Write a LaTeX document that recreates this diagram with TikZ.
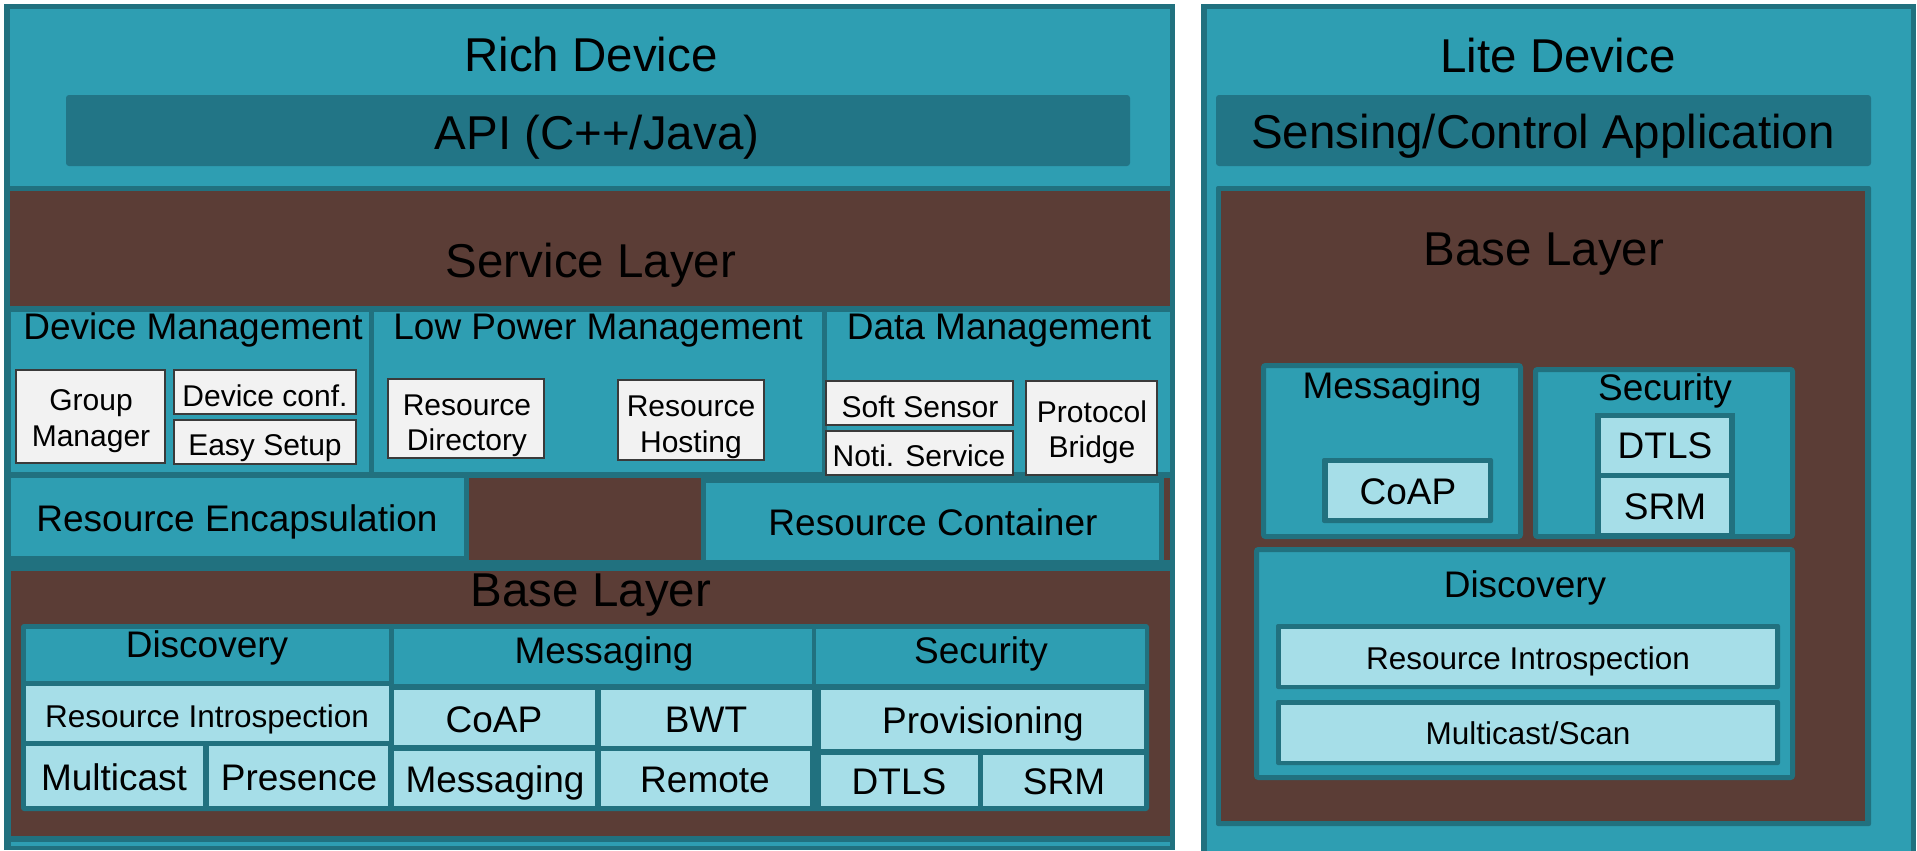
\documentclass[tikz,border=0pt]{standalone}
\usepackage{fontspec}
\setmainfont{Liberation Sans}
\definecolor{dteal}{RGB}{33,113,127}
\definecolor{lteal}{RGB}{46,158,178}
\definecolor{apib}{RGB}{34,117,134}
\definecolor{brn}{RGB}{91,61,54}
\definecolor{cyn}{RGB}{166,222,232}
\definecolor{wht}{RGB}{242,242,242}
\definecolor{wbord}{RGB}{58,58,58}
\newcommand\blk[6]{%
  \pgfmathsetmacro\blkX{(#2+#4)/2}\pgfmathsetmacro\blkY{(#3+#5)/2}%
  \pgfmathsetmacro\blkW{#4-#2}\pgfmathsetmacro\blkH{#5-#3}%
  \node[blkbase,#6,minimum width=\blkW pt,minimum height=\blkH pt] (#1) at (\blkX pt,-\blkY pt) {};}
\newcommand\lbl[5]{%
  \node[lblbase,#4] (#1) at (#2pt,-#3pt) {#5};}
\tikzset{
  blkbase/.style={rectangle,inner sep=0pt,outer sep=0pt,draw=none},
  lblbase/.style={anchor=base,inner sep=0pt,outer sep=0pt,text=black},
  darkf/.style={fill=dteal},
  panelf/.style={fill=lteal},
  brownf/.style={fill=brn},
  apif/.style={fill=apib,rounded corners=3pt},
  cellc/.style={fill=cyn},
  wbox/.style={fill=wht,draw=wbord,line width=2.5pt},
  bpanel/.style={fill=lteal,draw=dteal,line width=5pt,rounded corners=2pt},
  sqpanel/.style={fill=lteal,draw=dteal,line width=5pt},
  fbig/.style={font=\fontsize{47.5}{50}\selectfont},
  fmid/.style={font=\fontsize{37}{40}\selectfont},
  fsmall/.style={font=\fontsize{31.5}{34}\selectfont},
  fwt/.style={font=\fontsize{30}{33}\selectfont},
}
\begin{document}
\begin{tikzpicture}
\useasboundingbox (0,0) rectangle (1917pt,-851pt);
\fill[white] (0,0) rectangle (1917pt,-851pt);
\begin{scope}
\clip (0,0) rectangle (1917pt,-851pt);
% ---------------- Rich device ----------------
\blk{richOuter}{4}{4}{1175}{850}{darkf}
\blk{richTop}{10}{9}{1170}{186}{panelf}
\blk{api}{66}{95}{1130}{166}{apif}
\blk{service}{10}{191}{1170}{306}{brownf}
\blk{devMgmt}{11}{312}{369}{472}{panelf}
\blk{lowPow}{374}{312}{822}{472}{panelf}
\blk{dataMgmt}{827}{312}{1170}{472}{panelf}
\blk{gm}{16}{370}{165}{463}{wbox}
\blk{dconf}{174}{370}{356}{414}{wbox}
\blk{easy}{174}{420}{356}{464}{wbox}
\blk{rdir}{388}{379}{544}{458}{wbox}
\blk{rhost}{618}{380}{764}{460}{wbox}
\blk{soft}{826}{381}{1013}{425}{wbox}
\blk{noti}{826}{431}{1013}{475}{wbox}
\blk{proto}{1026}{381}{1157}{475}{wbox}
\blk{resEnc}{11}{478}{464}{556}{panelf}
\blk{midBrown}{469}{478}{1170}{560}{brownf}
\blk{resCont}{703.5}{480.5}{1161.5}{562}{sqpanel}
\blk{baseRich}{11}{571}{1170}{836}{brownf}
\blk{bottomLine}{11}{842}{1170}{846}{panelf}
\blk{baseIn}{21}{624}{1149}{811}{darkf,rounded corners=3pt}
\blk{discH}{26}{629}{389}{681}{panelf}
\blk{ri}{26}{686}{389}{741}{cellc}
\blk{mc}{26}{746}{203}{806}{cellc}
\blk{pres}{209}{746}{388}{806}{cellc}
\blk{msgH}{394}{629}{812}{684}{panelf}
\blk{coap}{394}{690}{595}{745}{cellc}
\blk{msg}{394}{751}{595}{806}{cellc}
\blk{bwt}{601}{690}{812}{746}{cellc}
\blk{remote}{601}{751}{810}{806}{cellc}
\blk{secH}{816}{629}{1145}{684}{panelf}
\blk{prov}{821}{690}{1144}{749}{cellc}
\blk{dtls}{821}{755}{978}{806}{cellc}
\blk{srm}{983}{755}{1144}{806}{cellc}
% ---------------- Lite device ----------------
\blk{liteOuter}{1201}{4}{1916}{860}{darkf}
\blk{liteIn}{1207}{9}{1911}{860}{panelf}
\blk{app}{1216}{95}{1871}{166}{apif}
\blk{liteBaseOut}{1216}{186}{1871}{826}{darkf,rounded corners=2pt}
\blk{liteBase}{1221}{191}{1865}{821}{brownf}
\blk{lMsg}{1263.5}{365.5}{1520.5}{536.5}{bpanel}
\blk{lSec}{1535.5}{369.5}{1792.5}{536.5}{bpanel}
\blk{lSecIn}{1595}{413}{1735}{537}{darkf}
\blk{lDtls}{1601}{418}{1729}{473}{cellc}
\blk{lSrm}{1601}{478}{1729}{533}{cellc}
\blk{lCoapC}{1322}{458}{1493}{523}{darkf,rounded corners=2pt}
\blk{lCoap}{1328}{463}{1488}{518}{cellc}
\blk{lDisc}{1256.5}{549.5}{1792.5}{777.5}{bpanel}
\blk{lRiC}{1276}{624}{1780}{689}{darkf,rounded corners=2pt}
\blk{lRi}{1281}{629}{1775}{685}{cellc}
\blk{lMcC}{1276}{700}{1780}{765}{darkf,rounded corners=2pt}
\blk{lMc}{1281}{705}{1775}{761}{cellc}
\end{scope}
% ---------------- texts: Rich ----------------
\lbl{tRich}{591}{71}{fbig}{Rich Device}
\lbl{tApi}{597}{149}{fbig}{API (C++/Java)}
\lbl{tServ}{591}{277}{fbig}{Service Layer}
\lbl{tDM}{193}{339}{fmid}{Device Management}
\lbl{tLPM}{598}{339}{fmid}{Low Power Management}
\lbl{tDaM}{999}{339}{fmid}{Data Management}
\lbl{tGmA}{91}{410}{fwt}{Group}
\lbl{tGmB}{91}{446}{fwt}{Manager}
\lbl{tDc}{265}{406}{fwt}{Device conf.}
\lbl{tEs}{265}{455}{fwt}{Easy Setup}
\lbl{tRdA}{467}{415}{fwt}{Resource}
\lbl{tRdB}{467}{450}{fwt}{Directory}
\lbl{tRhA}{691}{416}{fwt}{Resource}
\lbl{tRhB}{691}{452}{fwt}{Hosting}
\lbl{tSs}{920}{417}{fwt}{Soft Sensor}
\lbl{tNs}{919}{466}{fwt}{Noti. Service}
\lbl{tPbA}{1092}{422}{fwt}{Protocol}
\lbl{tPbB}{1092}{457}{fwt}{Bridge}
\lbl{tRe}{237}{531}{fmid}{Resource Encapsulation}
\lbl{tRc}{933}{535}{fmid}{Resource Container}
\lbl{tBase}{591}{606}{fbig}{Base Layer}
\lbl{tDisc}{207}{657}{fmid}{Discovery}
\lbl{tMsgH}{604}{663}{fmid}{Messaging}
\lbl{tSecH}{981}{663}{fmid}{Security}
\lbl{tRi}{207}{727}{fsmall}{Resource Introspection}
\lbl{tMc}{114}{790}{fmid}{Multicast}
\lbl{tPr}{299}{790}{fmid}{Presence}
\lbl{tCoap}{494}{732}{fmid}{CoAP}
\lbl{tMsg}{495}{792}{fmid}{Messaging}
\lbl{tBwt}{706}{732}{fmid}{BWT}
\lbl{tRem}{705}{792}{fmid}{Remote}
\lbl{tProv}{983}{733}{fmid}{Provisioning}
\lbl{tDtls}{899}{794}{fmid}{DTLS}
\lbl{tSrm}{1064}{794}{fmid}{SRM}
% ---------------- texts: Lite ----------------
\lbl{tLite}{1558}{73}{fbig}{Lite Device}
\lbl{tApp}{1543}{148}{fbig}{Sensing/Control Application}
\lbl{tLBase}{1544}{265}{fbig}{Base Layer}
\lbl{tLMsg}{1392}{398}{fmid}{Messaging}
\lbl{tLSec}{1665}{400}{fmid}{Security}
\lbl{tLCoap}{1408}{504}{fmid}{CoAP}
\lbl{tLDtls}{1665}{458}{fmid}{DTLS}
\lbl{tLSrm}{1665}{519}{fmid}{SRM}
\lbl{tLDisc}{1525}{597}{fmid}{Discovery}
\lbl{tLRi}{1528}{669}{fsmall}{Resource Introspection}
\lbl{tLMc}{1528}{744}{fsmall}{Multicast/Scan}
\end{tikzpicture}
\end{document}
